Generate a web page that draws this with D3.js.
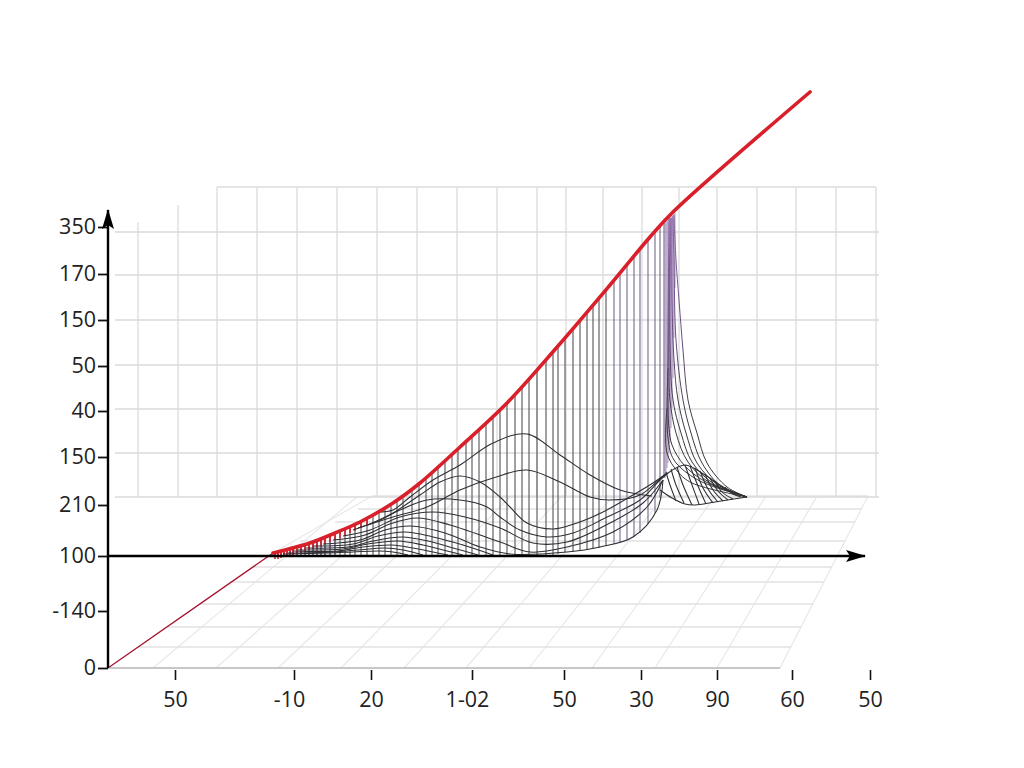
<!DOCTYPE html>
<html>
<head>
<meta charset="utf-8">
<script src="https://cdn.jsdelivr.net/npm/d3@7"></script>
<style>
  html, body { margin: 0; background: #fff; }
  text { font-family: "Open Sans", sans-serif; }
</style>
</head>
<body>
<script>
// axis labels, the picture does not keep them in order so they sit on their own tick values
const yTickAt = [441, 394, 348, 302, 257, 211, 163, 112, 57, 0];
const yTickLabels = ['350', '170', '150', '50', '40', '150', '210', '100', '-140', '0'];
const xTickAt = [67, 186, 263, 364, 456, 533, 609, 684, 762];
const xTickLabels = ['50', '-10', '20', '1-02', '50', '30', '90', '60', '50'];

// back wall
const wallX = [109, 149, 189, 229, 269, 309, 349, 389, 429, 458, 495, 534, 571, 609, 649, 688, 728, 768];
const wallShortX = [30, 70];
const wallShortTop = [446, 463];
const wallY = [436, 393, 348, 303, 259, 215, 171];

// floor
const floorRowY = [21, 41, 64, 86, 101, 127, 146, 159, 172];
const floorRowLeft = [30, 60, 92, 122, 146, 192, 227, 250, 264];
const floorRowRight = [683, 693, 705, 716, 724, 737, 747, 753, 760];
const floorFront = [45, 108, 170, 233, 296, 358, 421, 484, 547, 609, 672];
const floorBack = [250, 301, 352, 403, 454, 505, 556, 607, 658, 709, 760];

// red curve
const leadIn = [[0, 0], [165, 115]];
const redCurve = [[165, 115], [202, 125], [227, 135], [252, 146], [285, 165], [312, 185], [352, 221],
  [399, 265], [450, 322], [502, 383], [542, 431], [565, 456], [702, 576]];

// vertical ribs under the red curve
const ribX = [167, 170, 173, 176, 179, 182, 185, 189, 193, 197, 201, 205, 209, 213, 217, 222, 227, 232, 237, 242, 247,
  253, 259, 265, 271, 277, 283, 289, 295, 304, 311, 318, 324, 330, 337, 344, 350, 358, 364, 371, 378, 385, 392, 399,
  407, 414, 421, 429, 438, 445, 450, 457, 465, 472, 479, 485, 491, 498, 506, 512, 519, 526, 532, 540, 547, 552, 556];
const ribTop = [116, 116, 117, 118, 118, 119, 120, 121, 122, 123, 125, 126, 127, 129, 131, 133, 135, 137, 139, 142, 144,
  147, 150, 153, 157, 160, 164, 168, 172, 179, 184, 190, 196, 201, 207, 214, 219, 227, 232, 239, 245, 252, 258, 265,
  274, 282, 290, 299, 309, 317, 322, 330, 340, 348, 356, 363, 370, 378, 388, 395, 403, 412, 419, 429, 436, 442, 446];
const ribBase = [112, 112, 112, 112, 112, 112, 112, 112, 112, 112, 112, 112, 112, 112, 112, 112, 112, 112, 112, 112, 112,
  112, 112, 112, 112, 112, 112, 112, 112, 112, 112, 112, 112, 112, 112, 112, 112, 112, 112, 112, 112, 112, 112, 112,
  112, 112, 112, 112, 113, 113, 114, 116, 116, 117, 118, 119, 120, 122, 124, 125, 128, 131, 135, 144, 155, 170, 190];

// purple bundle at the top of the ridge
const spineX = [557, 558, 559, 560, 561, 562, 563, 564, 565, 566, 567];
const spineTop = [445, 446, 447, 448, 449, 450, 451, 452, 453, 454, 455];
const spineBase = [190, 195, 200, 205, 215, 225, 240, 260, 290, 330, 380];

// curves along the surface
const curveA = [[270, 156], [285, 158], [302, 171], [325, 188], [352, 203], [385, 225], [419, 234], [452, 213], [482, 193], [512, 178], [544, 172]];
const curveB = [[250, 140], [285, 151], [319, 161], [352, 178], [385, 190], [419, 198], [452, 186], [482, 171], [502, 168], [532, 173], [557, 193], [577, 203], [597, 193], [617, 180], [639, 171]];
const curveC = [[260, 143], [285, 155], [312, 173], [332, 186], [352, 192], [372, 186], [392, 171], [402, 161], [419, 145], [445, 139], [469, 145], [495, 156], [525, 173], [545, 185], [559, 195]];
const curveD = [[245, 138], [272, 148], [292, 158], [319, 168], [352, 168], [379, 161], [392, 151], [412, 138], [439, 131], [465, 135], [499, 151], [532, 168], [552, 188], [560, 195]];
const curveE = [[235, 132], [262, 138], [292, 151], [325, 156], [357, 151], [392, 140], [425, 125], [459, 126], [502, 145], [535, 165], [555, 188]];
const curveF = [[225, 128], [257, 133], [282, 144], [309, 150], [342, 143], [392, 126], [422, 116], [459, 121], [505, 136], [539, 161], [555, 188]];
const curveG = [[215, 124], [252, 128], [277, 138], [302, 142], [337, 135], [372, 121], [402, 114], [459, 116], [492, 121], [525, 131], [549, 158], [555, 188]];
const curveH = [[205, 122], [245, 124], [270, 132], [297, 136], [325, 131], [355, 123], [385, 113]];
const curveI = [[198, 120], [240, 121], [265, 127], [294, 131], [320, 127], [345, 120], [370, 113]];
const curveJ = [[190, 118], [235, 119], [260, 124], [290, 127], [315, 123], [335, 118], [355, 113]];
const curveK = [[185, 117], [230, 117], [255, 121], [284, 123], [305, 120], [325, 116], [340, 113]];
const curveL = [[180, 115], [225, 116], [250, 118], [277, 120], [295, 118], [315, 113]];
const curveM = [[175, 114], [220, 115], [245, 116], [270, 117], [285, 116], [300, 113]];

// tail on the right of the ridge
const tail1 = [[566, 453], [568, 408], [571, 368], [575, 318], [580, 268], [589, 235], [599, 205], [619, 181], [639, 171]];
const tail2 = [[565, 452], [566, 408], [568, 328], [575, 268], [583, 235], [594, 205], [614, 181], [639, 171]];
const tail3 = [[564, 450], [564, 368], [566, 308], [570, 268], [578, 235], [589, 205], [610, 183], [639, 171]];
const tail4 = [[563, 450], [562, 328], [565, 268], [573, 235], [584, 206], [606, 184], [639, 171]];
const tail5 = [[562, 450], [561, 300], [562, 268], [568, 235], [580, 206], [602, 185], [639, 171]];
const tail6 = [[561, 450], [560, 268], [561, 240], [564, 223], [576, 203], [598, 186], [639, 171]];
const tail7 = [[560, 300], [560, 230], [566, 208], [590, 188], [639, 171]];
const tail8 = [[559, 260], [559, 215], [570, 196], [584, 185], [639, 171]];
const tailLow = [[552, 178], [564, 170], [577, 164], [587, 163], [607, 166], [639, 171]];
const tailRib1 = [[558, 196], [562, 183], [568, 167]];
const tailRib2 = [[563, 199], [568, 183], [576, 165]];
const tailRib3 = [[569, 201], [575, 183], [584, 163]];
const tailRib4 = [[577, 203], [584, 183], [591, 164]];
const tailRib5 = [[582, 202], [590, 182], [598, 164]];
const tailRib6 = [[587, 200], [595, 180], [605, 165]];
const tailRib7 = [[592, 197], [600, 179], [610, 166]];
const tailRib8 = [[597, 194], [605, 178], [615, 167]];
const tailRib9 = [[602, 190], [610, 177], [620, 168]];
const tailRib10 = [[607, 187], [614, 176], [625, 169]];
const tailRib11 = [[617, 181], [625, 174], [633, 171]];

const surfaceCurves = [curveA, curveB, curveC, curveD, curveE, curveF, curveG, curveH, curveI, curveJ, curveK, curveL, curveM];
const fanCurves = [tail1, tail2, tail3, tail4, tail5, tail6, tail7, tail8];
const tailCurves = [tailLow, tailRib1, tailRib2, tailRib3, tailRib4, tailRib5, tailRib6, tailRib7, tailRib8, tailRib9, tailRib10, tailRib11];

const width = 1024, height = 768;
const x = d3.scaleLinear().domain([0, 772]).range([108, 880]);
const y = d3.scaleLinear().domain([0, 600]).range([668, 68]);

const svg = d3.select('body').append('svg')
  .attr('width', width)
  .attr('height', height)
  .style('display', 'block');

const defs = svg.append('defs');
defs.append('marker')
  .attr('id', 'arrow')
  .attr('viewBox', '0 0 20 12')
  .attr('refX', 19).attr('refY', 6)
  .attr('markerWidth', 20).attr('markerHeight', 12)
  .attr('markerUnits', 'userSpaceOnUse')
  .attr('orient', 'auto')
  .append('path')
  .attr('d', 'M0,0 L20,6 L0,12 L4,6 Z')
  .attr('fill', '#000');

// fan goes purple towards the top of the ridge
const fanGrad = defs.append('linearGradient')
  .attr('id', 'fan')
  .attr('gradientUnits', 'userSpaceOnUse')
  .attr('x1', 0).attr('x2', 0)
  .attr('y1', y(456)).attr('y2', y(230));
fanGrad.append('stop').attr('offset', '0%').attr('stop-color', '#8a63a6');
fanGrad.append('stop').attr('offset', '55%').attr('stop-color', '#5f4578');
fanGrad.append('stop').attr('offset', '100%').attr('stop-color', '#2e2e33');

const gridLine = (g, x1, y1, x2, y2, color, w) => g.append('line')
  .attr('x1', x(x1)).attr('y1', y(y1))
  .attr('x2', x(x2)).attr('y2', y(y2))
  .attr('stroke', color).attr('stroke-width', w);

// floor
const floor = svg.append('g');
floorFront.forEach((d, i) => gridLine(floor, d, 0, floorBack[i], 172, '#e8e8e8', 1.2));
floorRowY.forEach((d, i) => gridLine(floor, floorRowLeft[i], d, floorRowRight[i], d, '#e2e2e2', 1.3));
gridLine(floor, 165, 115, 264, 172, '#e8e8e8', 1.2);

// wall
const wall = svg.append('g');
wallX.forEach(d => gridLine(wall, d, 171, d, 481, '#dcdcdc', 1.3));
wallShortX.forEach((d, i) => gridLine(wall, d, 171, d, wallShortTop[i], '#dcdcdc', 1.3));
wallY.forEach(d => gridLine(wall, 7, d, 771, d, '#dadada', 1.4));
gridLine(wall, 109, 481, 768, 481, '#dcdcdc', 1.3);

// ribs
const ribs = svg.append('g');
ribX.forEach((d, i) => {
  let color = '#4c4c52';
  if (d < 230) color = '#5b4a70';
  if (d > 500) color = '#6f6284';
  gridLine(ribs, d, ribBase[i], d, ribTop[i], color, d < 230 ? 1.5 : 1.05);
  // the left part of the ribs goes red just under the curve
  if (d < 260) gridLine(ribs, d, ribTop[i] - 7, d, ribTop[i], '#d81f2a', 1.6);
});
spineX.forEach((d, i) => gridLine(ribs, d, spineBase[i], d, spineTop[i], '#9a7cb0', 1.1).attr('opacity', 0.7));

// surface lines
const line = d3.line()
  .x(d => x(d[0]))
  .y(d => y(d[1]))
  .curve(d3.curveCatmullRom.alpha(0.5));

svg.append('g').selectAll('path')
  .data(surfaceCurves.concat(tailCurves))
  .join('path')
  .attr('d', line)
  .attr('fill', 'none')
  .attr('stroke', '#2e2e33')
  .attr('stroke-width', 1.05);

svg.append('g').selectAll('path')
  .data(fanCurves)
  .join('path')
  .attr('d', line)
  .attr('fill', 'none')
  .attr('stroke', 'url(#fan)')
  .attr('stroke-width', 0.95);

// red curve
svg.append('path')
  .attr('d', d3.line().x(d => x(d[0])).y(d => y(d[1]))(leadIn))
  .attr('fill', 'none')
  .attr('stroke', '#a5122e')
  .attr('stroke-width', 1.3);

svg.append('path')
  .attr('d', line(redCurve))
  .attr('fill', 'none')
  .attr('stroke', '#d81f2a')
  .attr('stroke-width', 3.6)
  .attr('stroke-linecap', 'round');

// axes
const xAxis = d3.axisBottom(x)
  .tickValues(xTickAt)
  .tickFormat((d, i) => xTickLabels[i])
  .tickSize(10)
  .tickPadding(12);

const gx = svg.append('g')
  .attr('transform', 'translate(0,670)')
  .call(xAxis);
gx.select('.domain').remove();
gx.selectAll('.tick line').attr('stroke', '#111').attr('stroke-width', 1.6);
gx.selectAll('text')
  .attr('font-size', 21.5)
  .attr('fill', '#222')
  .attr('dx', (d, i) => xTickLabels[i].includes('-') ? -5 : 0);

gridLine(svg, 0, 0, 672, 0, '#b4b4b4', 1.4);

const yAxis = d3.axisLeft(y)
  .tickValues(yTickAt)
  .tickFormat((d, i) => yTickLabels[i])
  .tickSize(10)
  .tickPadding(2);

const gy = svg.append('g')
  .attr('transform', 'translate(108,0)')
  .call(yAxis);
gy.select('.domain').remove();
gy.selectAll('.tick line').attr('stroke', '#111').attr('stroke-width', 1.8);
gy.selectAll('text').attr('font-size', 21.5).attr('fill', '#222');

gridLine(svg, 0, 0, 0, 458, '#000', 2.4).attr('marker-end', 'url(#arrow)');
gridLine(svg, 0, 112, 757, 112, '#000', 2.4).attr('marker-end', 'url(#arrow)');
</script>
</body>
</html>
